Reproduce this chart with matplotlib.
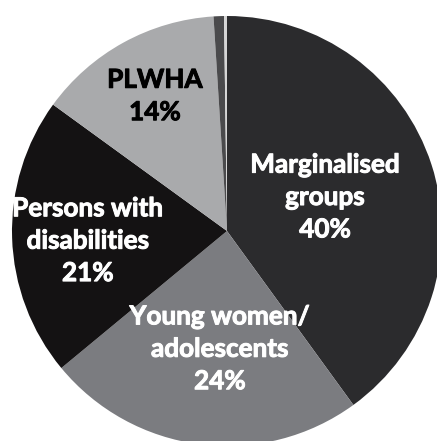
import matplotlib.pyplot as plt
import matplotlib.patheffects as pe

# share of beneficiaries by group (clockwise from 12 o'clock)
groups = ["Marginalised groups", "Young women/ adolescents",
          "Persons with disabilities", "PLWHA", "Other", "Unspecified"]
shares = [40, 24, 21, 14, 0.78, 0.22]
colours = ["#2b2b2d", "#7b7c80", "#141213", "#a9aaac", "#4a4a4c", "#d6d6d6"]

label_text = ["Marginalised\ngroups\n40%", "Young women/\nadolescents\n24%",
              "Persons with\ndisabilities\n21%", "PLWHA\n14%"]
label_xy = [(0.456, 0.158), (-0.033, -0.548), (-0.647, -0.045), (-0.335, 0.628)]
label_col = ["white", "white", "white", "black"]

fig = plt.figure(figsize=(4.37, 4.41), dpi=100)
ax = fig.add_axes([0, 0, 1, 1])

ax.pie(shares, colors=colours, startangle=90, counterclock=False,
       radius=1.0, wedgeprops=dict(linewidth=0))

for txt, (x, y), c in zip(label_text, label_xy, label_col):
    ax.text(x, y, txt, ha='center', va='center', color=c,
            fontsize=18.8, fontweight='bold', family='Lato', linespacing=1.42,
            path_effects=[pe.withStroke(linewidth=0.7, foreground=c)])

ax.set_xlim(-227/215, 210/215)
ax.set_ylim(-210/215, 231/215)
ax.set_aspect('equal')
ax.axis('off')

plt.savefig("out.png", dpi=100)
